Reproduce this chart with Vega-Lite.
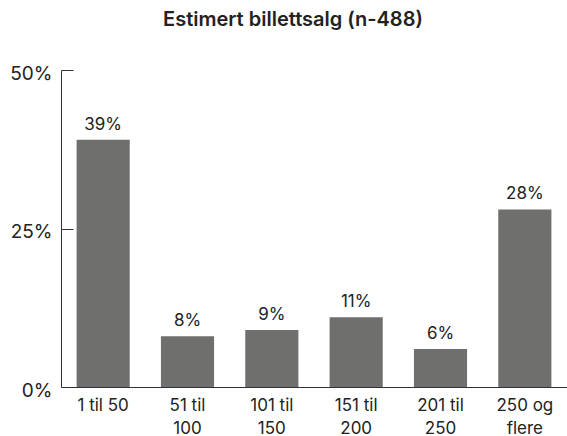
{
  "$schema": "https://vega.github.io/schema/vega-lite/v6.json",
  "width": 506,
  "height": 317,
  "autosize": {"type": "none"},
  "padding": {"left": 61, "top": 70, "right": 0, "bottom": 49},
  "background": "white",
  "title": {
    "text": "Estimert billettsalg (n-488)",
    "font": "Inter",
    "fontSize": 20,
    "fontWeight": 600,
    "color": "#222222",
    "anchor": "middle",
    "frame": "group",
    "dx": -21,
    "offset": 34
  },
  "data": {
    "values": [
      {"kategori": "1 til 50", "andel": 0.39},
      {"kategori": "51 til 100", "andel": 0.08},
      {"kategori": "101 til 150", "andel": 0.09},
      {"kategori": "151 til 200", "andel": 0.11},
      {"kategori": "201 til 250", "andel": 0.06},
      {"kategori": "250 og flere", "andel": 0.28}
    ]
  },
  "encoding": {
    "x": {
      "field": "kategori",
      "type": "nominal",
      "sort": null,
      "scale": {"paddingInner": 0.37, "paddingOuter": 0.185},
      "axis": {
        "title": null,
        "labelAngle": 0,
        "labelFont": "Inter",
        "labelFontSize": 17,
        "labelColor": "#222222",
        "labelPadding": 10,
        "labelLineHeight": 23,
        "labelExpr": "datum.value == '1 til 50' ? datum.value : [split(datum.value, ' ')[0] + ' ' + split(datum.value, ' ')[1], split(datum.value, ' ')[2]]",
        "ticks": false,
        "domainColor": "#333333",
        "domainWidth": 1
      }
    },
    "y": {
      "field": "andel",
      "type": "quantitative",
      "scale": {"domain": [0, 0.5]},
      "axis": {
        "title": null,
        "values": [0, 0.25, 0.5],
        "format": ".0%",
        "labelFont": "Inter",
        "labelFontSize": 19,
        "labelColor": "#222222",
        "labelPadding": 21,
        "labelOffset": 3,
        "tickSize": -12,
        "tickColor": "#333333",
        "domainColor": "#333333",
        "grid": false
      }
    }
  },
  "layer": [
    {"mark": {"type": "bar", "color": "#6f6f6d"}},
    {
      "mark": {"type": "text", "font": "Inter", "fontSize": 17, "color": "#222222", "baseline": "alphabetic", "dy": -10},
      "encoding": {"text": {"field": "andel", "type": "quantitative", "format": ".0%"}}
    }
  ],
  "config": {"view": {"stroke": null}}
}
